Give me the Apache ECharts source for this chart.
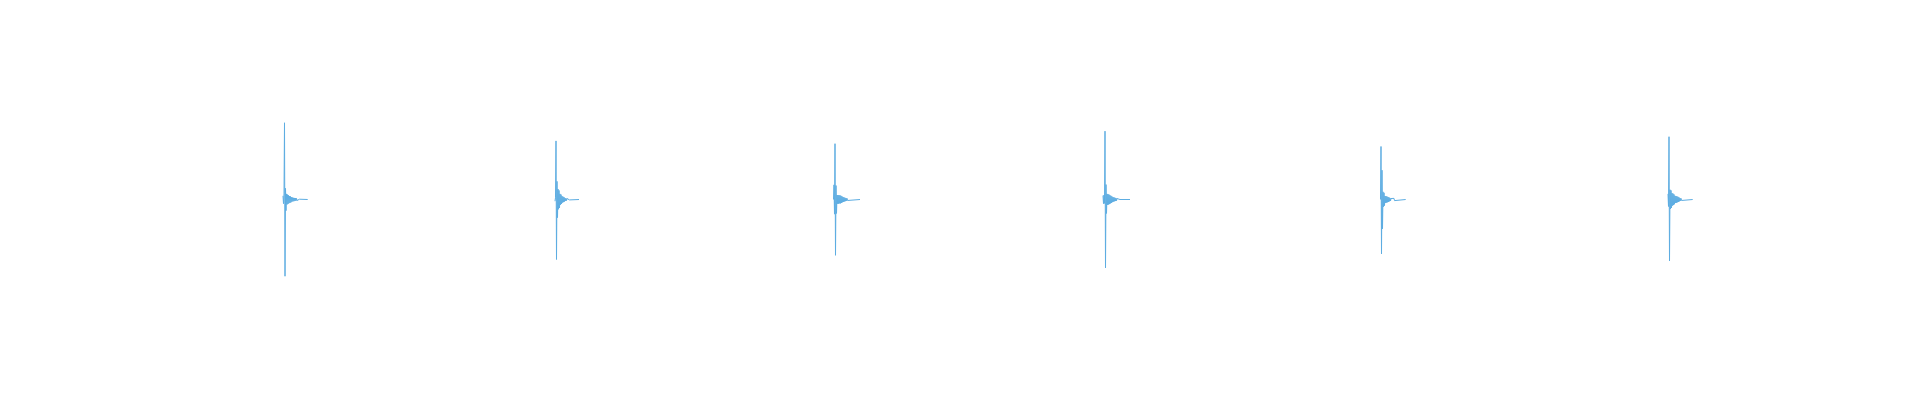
<!DOCTYPE html>
<html>
<head>
<meta charset="utf-8">
<style>
  html, body { margin: 0; padding: 0; background: #ffffff; }
  #chart { width: 1920px; height: 400px; }
</style>
<script src="https://cdn.jsdelivr.net/npm/echarts@6/dist/echarts.min.js"></script>
</head>
<body>
<div id="chart"></div>
<script>
// Six recorded clicks: start time (ms), clip length (ms), and sample amplitudes at a 0.5 ms step.
const sampleStepMs = 0.5;
const timeRangeMs = [0, 1536];
const amplitudeRange = [-1, 1];
const clipStartMs = [91, 363, 641.5, 911, 1188.5, 1476];
const clipLengthMs = [24.7, 24, 26.5, 27, 25.2, 24.7];

const clip1 = [0.026, -0.03, 0.04, 0.55, -0.55, 0.08, -0.08, 0.04, -0.036, 0.035, -0.032, 0.03, -0.026,
  0.024, -0.024, 0.022, -0.02, 0.016, -0.015, 0.014, -0.013, 0.012, -0.012, 0.011, -0.01, 0.01, -0.009,
  0.008, -0.007, 0.006, -0.005, 0.004, -0.003, 0.002, -0.001, 0];
const clip2 = [-0.012, 0.012, 0.42, -0.43, 0.13, -0.13, 0.075, -0.07, 0.065, -0.06, 0.04, -0.038, 0.035, -0.032,
  0.024, -0.022, 0.02, -0.019, 0.017, -0.015, 0.01, -0.009, 0.008, -0.008, 0.007, -0.006, 0.005, -0.005,
  0.004, -0.003, 0.002, -0.002, 0.001, 0];
const clip3 = [0, 0.105, -0.105, 0.40, -0.40, 0.1, -0.1, 0.032, -0.03, 0.032, -0.03, 0.03, -0.028, 0.03,
  -0.028, 0.026, -0.024, 0.022, -0.02, 0.018, -0.017, 0.015, -0.014, 0.012, -0.012, 0.01, -0.009, 0.008,
  -0.007, 0.005, -0.004, 0.003, -0.001, 0];
const clip4 = [0.028, -0.03, 0.032, -0.028, 0.49, -0.49, 0.107, -0.1, 0.04, -0.038, 0.038, -0.036, 0.035,
  -0.033, 0.03, -0.028, 0.026, -0.024, 0.021, -0.019, 0.017, -0.015, 0.015, -0.013, 0.012, -0.011, 0.01,
  -0.009, 0.007, -0.006, 0.005, -0.004, 0.002, -0.001, 0];
const clip5 = [0, 0.38, -0.39, 0.21, -0.21, 0.055, -0.052, 0.048, -0.044, 0.025, -0.024, 0.024, -0.022,
  0.021, -0.02, 0.018, -0.017, 0.015, -0.013, 0.011, -0.01, 0.007, -0.006, 0.004, -0.003, 0.002, -0.001,
  0.008, -0.008, 0.004, -0.003, 0];
const clip6 = [0.04, -0.05, 0.45, -0.44, 0.07, -0.068, 0.065, -0.06, 0.046, -0.044, 0.042, -0.04, 0.036,
  -0.034, 0.026, -0.025, 0.025, -0.023, 0.022, -0.02, 0.019, -0.017, 0.015, -0.013, 0.01, -0.009, 0.008,
  -0.007, 0.005, -0.004, 0.003, -0.001, 0];

const clips = [clip1, clip2, clip3, clip4, clip5, clip6];

const waveData = [];
clips.forEach((clip, c) => {
  clip.forEach((v, i) => waveData.push([clipStartMs[c] + i * sampleStepMs, v]));
  waveData.push([clipStartMs[c] + clipLengthMs[c], 0]);
  waveData.push(null);
});

const chart = echarts.init(document.getElementById('chart'), null, { renderer: 'canvas' });
chart.setOption({
  animation: false,
  backgroundColor: '#ffffff',
  grid: { left: '10%', right: '10%', top: 60, bottom: 61 },
  xAxis: { type: 'value', min: timeRangeMs[0], max: timeRangeMs[1], show: false },
  yAxis: { type: 'value', min: amplitudeRange[0], max: amplitudeRange[1], show: false },
  series: [{
    type: 'line',
    data: waveData,
    showSymbol: false,
    symbol: 'none',
    connectNulls: false,
    silent: true,
    lineStyle: { color: '#5dade2', width: 1 },
    itemStyle: { color: '#5dade2' }
  }]
});
</script>
</body>
</html>
